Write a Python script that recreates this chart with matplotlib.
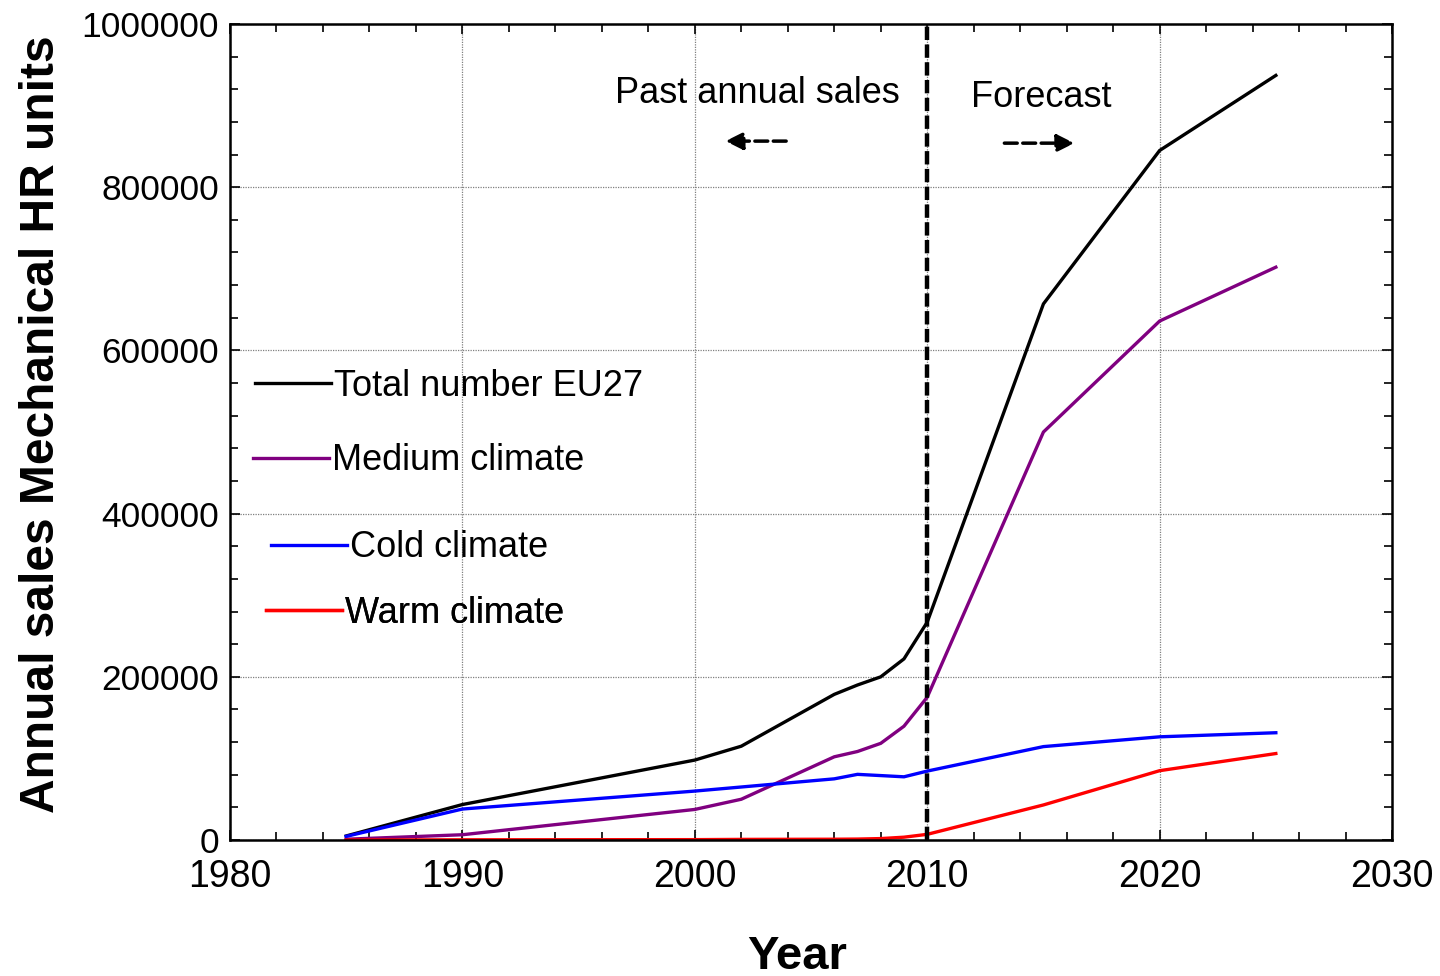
import matplotlib
matplotlib.use("Agg")
import matplotlib.pyplot as plt
from matplotlib.ticker import MultipleLocator

plt.rcParams['font.family'] = ['Liberation Sans', 'DejaVu Sans']

years = [1985, 1990, 2000, 2002, 2006, 2007, 2008, 2009, 2010, 2015, 2020, 2025]
total = [5000, 43500, 98000, 115000, 178500, 190000, 200000, 222000, 267000, 657000, 845000, 937000]
medium = [1000, 6500, 37500, 50000, 102000, 108500, 118500, 139500, 175000, 500000, 636000, 702000]
cold = [4500, 38000, 60000, 65000, 75000, 80500, 79000, 77500, 84500, 114500, 126500, 131500]
warm = [0, 300, 500, 800, 1000, 1200, 1800, 3500, 7000, 43000, 85000, 106000]

series_labels = ["Total number EU27", "Medium climate", "Cold climate", "Warm climate"]
series_colors = ["#000000", "#800080", "#0000FF", "#FF0000"]
series_values = [total, medium, cold, warm]

x_ticks = [1980, 1990, 2000, 2010, 2020, 2030]
y_ticks = [0, 200000, 400000, 600000, 800000, 1000000]
divider_year = 2010

fig = plt.figure(figsize=(14.4, 9.76), dpi=100)
ax = fig.add_axes([0.1597, 0.1393, 0.8070, 0.8361])

lines = []
for vals, col, lab in zip(series_values, series_colors, series_labels):
    ln, = ax.plot(years, vals, color=col, lw=2.4, label=lab, solid_joinstyle='miter')
    lines.append(ln)

ax.axvline(divider_year, color='black', lw=3.2, ls=(0, (3, 1)), zorder=5)

ax.set_xlim(1980, 2030)
ax.set_ylim(0, 1000000)
ax.set_xticks(x_ticks)
ax.set_yticks(y_ticks)
ax.set_xticklabels([str(v) for v in x_ticks])
ax.set_yticklabels([str(v) for v in y_ticks])
ax.xaxis.set_minor_locator(MultipleLocator(2))
ax.yaxis.set_minor_locator(MultipleLocator(40000))
ax.tick_params(which='both', direction='in', top=True, right=True, width=1.2)
ax.tick_params(which='major', length=7)
ax.tick_params(which='minor', length=6)
ax.tick_params(axis='x', which='major', labelsize=27, pad=14)
ax.tick_params(axis='y', which='major', labelsize=25.5, pad=8)
ax.grid(True, which='major', color='#808080', ls=(0, (1, 1)), lw=0.9)
for sp in ax.spines.values():
    sp.set_linewidth(1.8)

ax.set_xlabel("Year", fontsize=34, fontweight='bold')
ax.xaxis.set_label_coords(0.488, -0.116)
ax.set_ylabel("Annual sales Mechanical HR units", fontsize=34.5, fontweight='bold')
ax.yaxis.set_label_coords(-0.143, 0.51)

# custom legend entries at individual positions
legend_pos = [(0.0215, 0.556), (0.0198, 0.4645), (0.0353, 0.358), (0.031, 0.278)]
for ln, pos in zip(lines, legend_pos):
    lg = ax.legend(handles=[ln], labels=[ln.get_label()], loc='center left',
                   bbox_to_anchor=pos, frameon=False, fontsize=26,
                   handlelength=2.1, handletextpad=0.08, borderpad=0, borderaxespad=0)
    ax.add_artist(lg)

# annotations
ax.text(2002.7, 915000, "Past annual sales", fontsize=26, ha='center', va='center')
ax.text(2014.9, 910000, "Forecast", fontsize=26, ha='center', va='center')
ax.annotate("", xy=(2001.2, 856500), xytext=(2004.05, 856500),
            arrowprops=dict(arrowstyle='-|>', ls='--', lw=2.5, color='black', mutation_scale=26))
ax.annotate("", xy=(2016.45, 854000), xytext=(2013.2, 854000),
            arrowprops=dict(arrowstyle='-|>', ls='--', lw=2.5, color='black', mutation_scale=26))

fig.savefig("out.png", dpi=100)
